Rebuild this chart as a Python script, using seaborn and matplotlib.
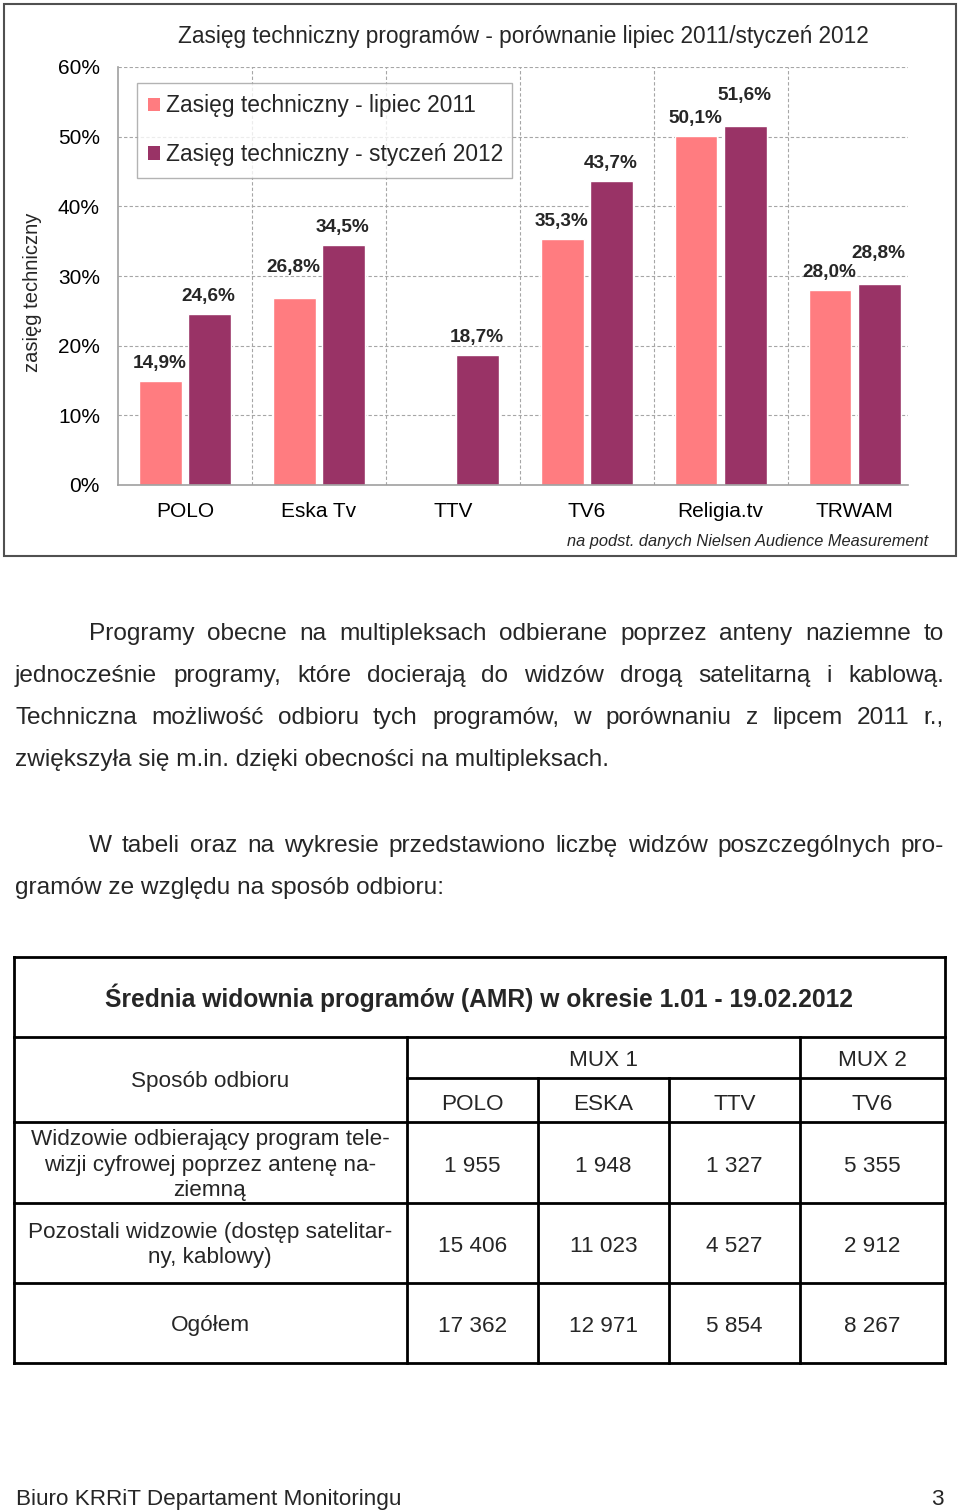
import matplotlib.pyplot as plt
import pandas as pd
import seaborn as sns
from matplotlib.patches import Patch, Rectangle

# Chart data (technical reach, %)
programs = ["POLO", "Eska Tv", "TTV", "TV6", "Religia.tv", "TRWAM"]
reach_jul_2011 = [14.9, 26.8, None, 35.3, 50.1, 28.0]
reach_jan_2012 = [24.6, 34.5, 18.7, 43.7, 51.6, 28.8]
series = ["Zasięg techniczny - lipiec 2011", "Zasięg techniczny - styczeń 2012"]
y_ticks = [0, 10, 20, 30, 40, 50, 60]

# Table data (AMR 1.01 - 19.02.2012)
table_mux = ["MUX 1", "MUX 2"]
table_channels = ["POLO", "ESKA", "TTV", "TV6"]
row_labels = [
    "Widzowie odbierający program tele-\nwizji cyfrowej poprzez antenę na-\nziemną",
    "Pozostali widzowie (dostęp satelitar-\nny, kablowy)",
    "Ogółem",
]
viewers_terrestrial = [1955, 1948, 1327, 5355]
viewers_other = [15406, 11023, 4527, 2912]
viewers_total = [17362, 12971, 5854, 8267]

colors = ["#FF7C80", "#993366"]

sns.set_theme(style="white")
plt.rcParams["font.family"] = ["Liberation Sans", "DejaVu Sans"]

fig = plt.figure(figsize=(9.6, 15.11), dpi=100)
fig.patch.set_facecolor("white")

# page layer in pixel coordinates
pg = fig.add_axes([0, 0, 1, 1], zorder=0)
pg.set_xlim(0, 960)
pg.set_ylim(1511, 0)
pg.axis("off")
renderer = fig.canvas.get_renderer()

pg.add_patch(Rectangle((4, 4), 952, 552, fill=False, edgecolor="#505050", lw=1.5))

# ---- bar chart ----
df = pd.DataFrame({
    "program": programs * 2,
    "okres": [series[0]] * len(programs) + [series[1]] * len(programs),
    "value": reach_jul_2011 + reach_jan_2012,
}).dropna()

ax = fig.add_axes([118 / 960, 1 - 485 / 1511, 790 / 960, 418 / 1511], zorder=1)
ax.patch.set_alpha(0)
sns.barplot(data=df, x="program", y="value", hue="okres", order=programs,
            hue_order=series, palette=colors, width=0.737, gap=0.133,
            saturation=1, errorbar=None, legend=False, ax=ax)
ax.set_xlim(-0.5, 5.398)
ax.set_ylim(0, 60)
ax.set_yticks(y_ticks)
ax.set_yticklabels([f"{v}%" for v in y_ticks])
ax.set_xticks([i + 0.5 for i in range(len(programs) - 1)], minor=True)
ax.set_xlabel("")
ax.set_ylabel("")
ax.grid(False)
ax.grid(which="major", axis="y", linestyle=(0, (3, 2)), color="#a6a6a6", lw=0.8)
ax.grid(which="minor", axis="x", linestyle=(0, (3, 2)), color="#a6a6a6", lw=0.8)
ax.set_axisbelow(True)
ax.tick_params(which="both", length=0, labelsize=15, colors="black")
ax.tick_params(axis="y", pad=13)
ax.tick_params(axis="x", pad=12)
for s in ["top", "right"]:
    ax.spines[s].set_visible(False)
for s in ["left", "bottom"]:
    ax.spines[s].set_color("#a0a0a0")
    ax.spines[s].set_linewidth(1.2)

# data labels (three of them were lifted in the original to avoid clutter)
lifted = {("Eska Tv", 0), ("Religia.tv", 1), ("TRWAM", 1)}
for k, cont in enumerate(ax.containers):
    for bar in cont:
        h = bar.get_height()
        xc = bar.get_x() + bar.get_width() / 2
        prog = programs[int(round(xc))]
        pad = 9 + (13 if (prog, k) in lifted else 0)
        ax.annotate(f"{h:.1f}".replace(".", ",") + "%", (xc, h),
                    xytext=(-1, pad), textcoords="offset pixels",
                    ha="center", va="bottom", fontsize=13.7, fontweight="bold")

handles = [Patch(facecolor=c, edgecolor="none") for c in colors]
leg = ax.legend(handles, series, loc="upper left", mode="expand",
                bbox_to_anchor=(137 / 960, 1 - 177 / 1511, 375 / 960, 94 / 1511),
                bbox_transform=fig.transFigure, fontsize=16.4, frameon=True,
                fancybox=False, borderpad=0.5, labelspacing=1.13,
                handlelength=0.53, handleheight=0.53, handletextpad=0.25,
                borderaxespad=0)
leg.get_frame().set_edgecolor("#a0a0a0")
leg.get_frame().set_linewidth(1)

pg.text(523, 43, "Zasięg techniczny programów - porównanie lipiec 2011/styczeń 2012",
        ha="center", va="baseline", fontsize=16.3)
pg.text(33, 292, "zasięg techniczny", rotation=90, ha="center", va="center", fontsize=14.5)
pg.text(567, 546, "na podst. danych Nielsen Audience Measurement",
        ha="left", va="baseline", fontsize=11.8, style="italic")

# ---- body text ----
body_fs = 17.6
def justify(line, y, x0, x1, size=body_fs):
    words = line.split(" ")
    texts = [pg.text(0, y, w, fontsize=size, va="baseline", ha="left") for w in words]
    widths = [t.get_window_extent(renderer).width for t in texts]
    gap = (x1 - x0 - sum(widths)) / (len(words) - 1)
    x = x0
    for t, w in zip(texts, widths):
        t.set_x(x)
        x += w + gap

justify("Programy obecne na multipleksach odbierane poprzez anteny naziemne to", 640, 89, 944)
justify("jednocześnie programy, które docierają do widzów drogą satelitarną i kablową.", 682, 15, 944)
justify("Techniczna możliwość odbioru tych programów, w porównaniu z lipcem 2011 r.,", 724, 15, 944)
pg.text(15, 766, "zwiększyła się m.in. dzięki obecności na multipleksach.", fontsize=body_fs, va="baseline")
justify("W tabeli oraz na wykresie przedstawiono liczbę widzów poszczególnych pro-", 852, 89, 944)
pg.text(15, 894, "gramów ze względu na sposób odbioru:", fontsize=body_fs, va="baseline")

# ---- table ----
xs = [14, 407, 538, 669, 800, 945]
lw = 2
def hline(y, xa, xb):
    pg.plot([xa, xb], [y, y], color="black", lw=lw, solid_capstyle="projecting")
def vline(x, ya, yb):
    pg.plot([x, x], [ya, yb], color="black", lw=lw, solid_capstyle="projecting")

for y in [957, 1037, 1122, 1203, 1283, 1363]:
    hline(y, 14, 945)
hline(1078, 407, 945)
vline(14, 957, 1363)
vline(945, 957, 1363)
vline(407, 1037, 1363)
vline(800, 1037, 1363)
vline(538, 1078, 1363)
vline(669, 1078, 1363)

fs = 16.2
pg.text(479, 998, "Średnia widownia programów (AMR) w okresie 1.01 - 19.02.2012",
        ha="center", va="center", fontsize=17.7, fontweight="bold")
pg.text((xs[1] + xs[4]) / 2, 1060, table_mux[0], ha="center", va="center", fontsize=fs)
pg.text((xs[4] + xs[5]) / 2, 1060, table_mux[1], ha="center", va="center", fontsize=fs)
pg.text(210, 1081, "Sposób odbioru", ha="center", va="center", fontsize=fs)
centers = [(xs[i] + xs[i + 1]) / 2 for i in range(1, 5)]
for cx, name in zip(centers, table_channels):
    pg.text(cx, 1104, name, ha="center", va="center", fontsize=fs)

row_y = [1166, 1246, 1326]
for ry, label, vals in zip(row_y, row_labels, [viewers_terrestrial, viewers_other, viewers_total]):
    pg.text(210, ry - 1, label, ha="center", va="center", multialignment="center",
            fontsize=fs, linespacing=1.3)
    for cx, v in zip(centers, vals):
        pg.text(cx, ry, f"{v:,}".replace(",", " "), ha="center", va="center", fontsize=fs)

# ---- footer ----
pg.text(16, 1505, "Biuro KRRiT Departament Monitoringu", fontsize=16.2, va="baseline")
pg.text(944, 1505, "3", fontsize=16.2, va="baseline", ha="right")

fig.savefig("out.png", dpi=100)
